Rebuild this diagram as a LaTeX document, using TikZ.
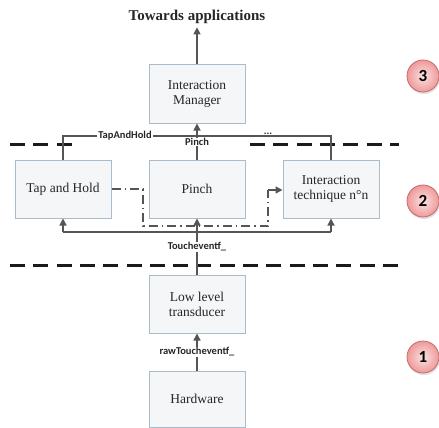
\documentclass[tikz,border=0pt]{standalone}
\usepackage{fontspec}
\setmainfont{Liberation Serif}
\newfontfamily\labelfont{Carlito}
\usetikzlibrary{arrows.meta,shadows}

\definecolor{boxfill}{HTML}{F4F6F8}
\definecolor{boxline}{HTML}{A8BCCB}
\definecolor{wire}{HTML}{555555}
\definecolor{sepline}{HTML}{1A1A1A}
\definecolor{badgein}{HTML}{FCE1E1}
\definecolor{badgeout}{HTML}{EE9A9A}
\definecolor{badgeline}{HTML}{C86A6A}

\tikzset{
  layerbox/.style={draw=boxline, line width=1pt, fill=boxfill,
    minimum width=96pt, minimum height=58pt, align=center, inner sep=2pt,
    font=\fontsize{13.5}{15}\selectfont, text=black!85,
    drop shadow={opacity=0.12, shadow xshift=1pt, shadow yshift=-1pt}},
  wireline/.style={draw=wire, line width=1.3pt},
  arr/.style={wireline, -{Triangle[length=7pt,width=7pt]}},
  dashdotline/.style={draw=wire, line width=1.4pt,
    dash pattern=on 9pt off 4pt on 1.5pt off 4pt},
  separator/.style={draw=sepline, line width=3pt, dash pattern=on 15pt off 8.3pt},
  tag/.style={fill=white, inner sep=1pt, text=black!85,
    font=\labelfont\bfseries\fontsize{10.5}{12}\selectfont},
  badge/.style={circle, minimum size=32pt, draw=badgeline, line width=0.8pt,
    inner color=badgein, outer color=badgeout, text=black,
    font=\labelfont\bfseries\fontsize{17}{18}\selectfont,
    drop shadow={opacity=0.25, shadow xshift=1pt, shadow yshift=-2pt}}
}

\begin{document}
\begin{tikzpicture}[x=1pt,y=-1pt]
  \useasboundingbox[fill=white] (0,0) rectangle (439,428);

  % layer separators
  \draw[separator] (10,144) -- (72,144);
  \draw[separator] (250,144) -- (399,144);
  \draw[separator] (10,265) -- (399,265);

  % boxes
  \node[layerbox] (im)  at (197,94)  {Interaction\\Manager};
  \node[layerbox] (th)  at (63,189)  {Tap and Hold};
  \node[layerbox] (pi)  at (197,189) {Pinch};
  \node[layerbox] (it)  at (331,189) {Interaction\\technique n°n};
  \node[layerbox] (llt) at (197,304) {Low level\\transducer};
  \node[layerbox, minimum height=56pt] (hw) at (197,399) {Hardware};

  % output of the manager
  \node[font=\bfseries\fontsize{15}{17}\selectfont, text=black!85] (app) at (197,17) {Towards applications};
  \draw[arr] (im.north) -- (app.south);

  % events collected by the manager
  \coordinate (bustop) at (197,136);
  \draw[wireline] (th.north) -- (th.north |- bustop) -- (it.north |- bustop) -- (it.north);
  \draw[arr] (pi.north) -- (im.south);
  \node[tag] (lth) at (125,136) {TapAndHold};
  \node[tag, inner sep=0.5pt] (ldots) at (268,134) {...};
  \node[tag, inner sep=0.5pt] (lpi) at (197,142) {Pinch};

  % touch events distributed to the techniques
  \coordinate (busbot) at (197,232);
  \draw[wireline] (th.south |- busbot) -- (it.south |- busbot);
  \draw[arr] (th.south |- busbot) -- (th.south);
  \draw[arr] (it.south |- busbot) -- (it.south);
  \draw[arr] (llt.north) -- (pi.south);
  \node[tag] (lte) at (197,247) {Toucheventf\_};

  % hardware to transducer
  \draw[arr] (hw.north) -- (llt.south);
  \node[tag] (lraw) at (197,352) {rawToucheventf\_};

  % coordination between techniques
  \coordinate (dd1) at (143,189);
  \coordinate (dd2) at (143,226);
  \coordinate (dd3) at (268,226);
  \coordinate (dd4) at (268,190);
  \draw[dashdotline] (th.east) -- (dd1) -- (dd2) -- (dd3) -- (dd4);
  \draw[dashdotline, solid, -{Triangle[length=7pt,width=7pt]}] (dd4) -- (it.west |- dd4);

  % layer numbers
  \node[badge] (b3) at (423,76)  {3};
  \node[badge] (b2) at (423,201) {2};
  \node[badge] (b1) at (423,357) {1};
\end{tikzpicture}
\end{document}
